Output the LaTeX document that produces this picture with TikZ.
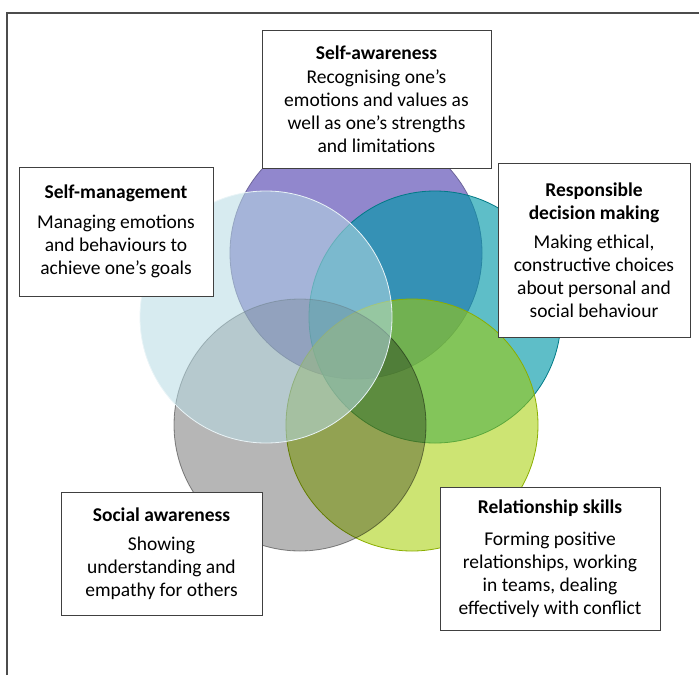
\documentclass[tikz,border=0pt]{standalone}
\usepackage{fontspec}
\setmainfont{Carlito}
\usepackage{tikz}
\usetikzlibrary{positioning}
\definecolor{awarecol}{RGB}{145,135,205}
\definecolor{decidecol}{RGB}{0,152,168}
\definecolor{managecol}{RGB}{182,218,227}
\definecolor{socialcol}{RGB}{182,182,182}
\definecolor{relatecol}{RGB}{164,205,0}
\tikzstyle{area} = [circle, minimum size=252pt, inner sep=0pt, line width=0.8pt]
\tikzstyle{block} = [draw=black!75, fill=white, rectangle, line width=1pt, align=center, inner sep=0pt, font=\fontsize{19.5}{23}\selectfont]

\begin{document}
\begin{tikzpicture}[x=1pt, y=-1pt]
        \useasboundingbox (0,0) rectangle (699,675);

        % outer frame
        \draw[line width=1.5pt, black!70] (7,675) -- (7,13) -- (699,13);

        % overlapping areas
        \node [area, fill=awarecol, draw=awarecol!75!black] (awarearea) at (356,253) {};
        \node [area, fill=decidecol, fill opacity=0.63, draw=decidecol!80!black] (decidearea) at (435,317) {};
        \node [area, fill=relatecol, fill opacity=0.55, draw=relatecol!85!black] (relatearea) at (412,425) {};
        \begin{scope}[blend mode=multiply]
            \node [area, fill=socialcol, draw=socialcol!80!black] (socialarea) at (300,425) {};
        \end{scope}
        \node [area, fill=managecol, fill opacity=0.55, draw=white!70!managecol] (managearea) at (266,317) {};

        % labels
        \node [block, minimum width=229pt, minimum height=138pt] (aware) at (376.5,99) {
            \textbf{Self-awareness}\\[1pt]
            Recognising one’s\\ emotions and values as\\ well as one’s strengths\\ and limitations
        };
        \node [block, minimum width=194pt, minimum height=129pt] (manage) at (116,231.5) {
            \textbf{Self-management}\\[7pt]
            Managing emotions\\ and behaviours to\\ achieve one’s goals
        };
        \node [block, minimum width=192pt, minimum height=174pt] (decide) at (594,250) {
            \textbf{Responsible}\\ \textbf{decision making}\\[6pt]
            Making ethical,\\ constructive choices\\ about personal and\\ social behaviour
        };
        \node [block, minimum width=201pt, minimum height=123pt] (social) at (161.5,553.5) {
            \textbf{Social awareness}\\[6pt]
            Showing\\ understanding and\\ empathy for others
        };
        \node [block, minimum width=220pt, minimum height=143pt] (relate) at (550,558.5) {
            \textbf{Relationship skills}\\[9pt]
            Forming positive\\ relationships, working\\ in teams, dealing\\ effectively with conflict
        };
    \end{tikzpicture}
\end{document}
